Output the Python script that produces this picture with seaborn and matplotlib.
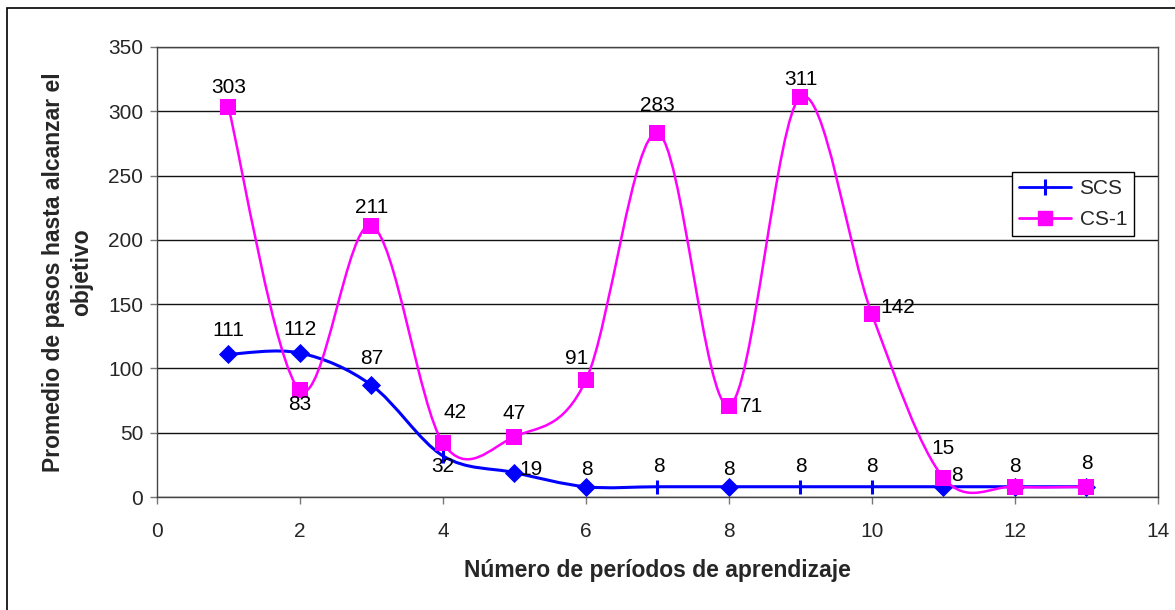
import matplotlib
matplotlib.use("Agg")
import matplotlib.pyplot as plt
import numpy as np
import pandas as pd
import seaborn as sns
from matplotlib.lines import Line2D
from matplotlib.patches import PathPatch, Rectangle
from matplotlib.path import Path

# ── Data ──────────────────────────────────────────────────────────────────────

periods = [1, 2, 3, 4, 5, 6, 7, 8, 9, 10, 11, 12, 13]
scs = [111, 112, 87, 32, 19, 8, 8, 8, 8, 8, 8, 8, 8]
cs1 = [303, 83, 211, 42, 47, 91, 283, 71, 311, 142, 15, 8, 8]

# SCS marker per point: Excel mixed diamonds and bar ticks
scs_markers = ["D", "D", "D", "|", "D", "D", "|", "D", "|", "|", "D", "D", "D"]

# label offsets in pixels (dx, dy), None = no label shown
scs_offsets = [(0, 24), (0, 24), (0, 27), (0, -11), (17, 3), (1, 17), (1, 20),
               (0, 17), (0, 20), (0, 20), (13, 11), None, None]
cs1_offsets = [(0, 20), (0, -14), (0, 18), (12, 31), (0, 23), (-9, 22), (0, 28),
               (23, -1), (0, 18), (26, 7), (0, 29), (0, 20), (0, 23)]

BLUE = "#0000FF"
MAGENTA = "#FF00FF"


def smooth_path(xs, ys):
    """Excel-like smoothed line: Catmull-Rom control points as cubic Beziers."""
    pts = np.column_stack([xs, ys]).astype(float)
    n = len(pts)
    verts, codes = [pts[0]], [Path.MOVETO]
    for i in range(n - 1):
        p0 = pts[max(i - 1, 0)]
        p1, p2 = pts[i], pts[i + 1]
        p3 = pts[min(i + 2, n - 1)]
        verts += [p1 + (p2 - p0) / 6, p2 - (p3 - p1) / 6, p2]
        codes += [Path.CURVE4] * 3
    return Path(verts, codes)


sns.set_theme(style="white")
plt.rcParams["font.family"] = ["Liberation Sans", "DejaVu Sans"]

fig = plt.figure(figsize=(11.75, 6.1), dpi=100)
ax = fig.add_axes([0.1336, 0.1852, 0.8519, 0.7378])

# outer chart frame
fig.patches.append(Rectangle((0.006, -0.2), 1.2, 1.187, transform=fig.transFigure,
                             fill=False, edgecolor="black", lw=1.2))

df = pd.DataFrame({"period": periods, "scs": scs, "cs1": cs1, "mk": scs_markers})

# smoothed lines + markers
ax.add_patch(PathPatch(smooth_path(periods, scs), fill=False, edgecolor=BLUE,
                       lw=2.2, zorder=3))
d = df[df.mk == "D"]
sns.scatterplot(data=d, x="period", y="scs", marker="D", s=95, color=BLUE,
                edgecolor=BLUE, linewidth=0, ax=ax, zorder=4, legend=False)
t = df[df.mk == "|"]
sns.scatterplot(data=t, x="period", y="scs", marker="|", s=110, color=BLUE,
                linewidth=2.2, ax=ax, zorder=4, legend=False)

ax.add_patch(PathPatch(smooth_path(periods, cs1), fill=False, edgecolor=MAGENTA,
                       lw=1.8, zorder=5))
sns.scatterplot(data=df, x="period", y="cs1", marker="s", s=120, color=MAGENTA,
                edgecolor=MAGENTA, linewidth=0, ax=ax, zorder=6, legend=False)

# data labels
px2pt = 0.72
for x, y, off in zip(periods, scs, scs_offsets):
    if off is None:
        continue
    ax.annotate(str(y), (x, y), xytext=(off[0] * px2pt, off[1] * px2pt),
                textcoords="offset points", ha="center", va="center",
                fontsize=15, color="black", zorder=7)
for x, y, off in zip(periods, cs1, cs1_offsets):
    ax.annotate(str(y), (x, y), xytext=(off[0] * px2pt, off[1] * px2pt),
                textcoords="offset points", ha="center", va="center",
                fontsize=15, color="black", zorder=7)

ax.set_xlim(0, 14)
ax.set_ylim(0, 350)
ax.set_xticks(range(0, 15, 2))
ax.set_yticks(range(0, 351, 50))
ax.yaxis.grid(True, color="#111111", lw=1.0)
ax.set_axisbelow(True)
for s in ax.spines.values():
    s.set_color("#444444")
    s.set_linewidth(1.0)
ax.tick_params(axis="both", direction="out", length=5, width=1, color="#777777",
               labelsize=15, bottom=True, left=True)
ax.tick_params(axis="x", pad=13)
ax.tick_params(axis="y", pad=5)

ax.set_xlabel("Número de períodos de aprendizaje", fontsize=16.5, fontweight="bold")
ax.xaxis.set_label_coords(0.5, -0.164)
ax.xaxis.label.set_va("center")
ax.set_ylabel("Promedio de pasos hasta alcanzar el\nobjetivo", fontsize=16.5,
              fontweight="bold", linespacing=1.25)
ax.yaxis.set_label_coords(-0.0894, 0.5)
ax.yaxis.label.set_va("center")

handles = [
    Line2D([], [], color=BLUE, lw=2, marker="|", ms=11, mew=2.2),
    Line2D([], [], color=MAGENTA, lw=2, marker="s", ms=10),
]
leg = ax.legend(handles, ["SCS", "CS-1"], loc="upper left",
                bbox_to_anchor=(0.854, 0.722), fontsize=15, frameon=True,
                fancybox=False, edgecolor="black", framealpha=1,
                borderpad=0.35, handlelength=2.5, labelspacing=0.55,
                handletextpad=0.4, borderaxespad=0)
leg.get_frame().set_linewidth(1.0)

fig.savefig("out.png", dpi=100)
